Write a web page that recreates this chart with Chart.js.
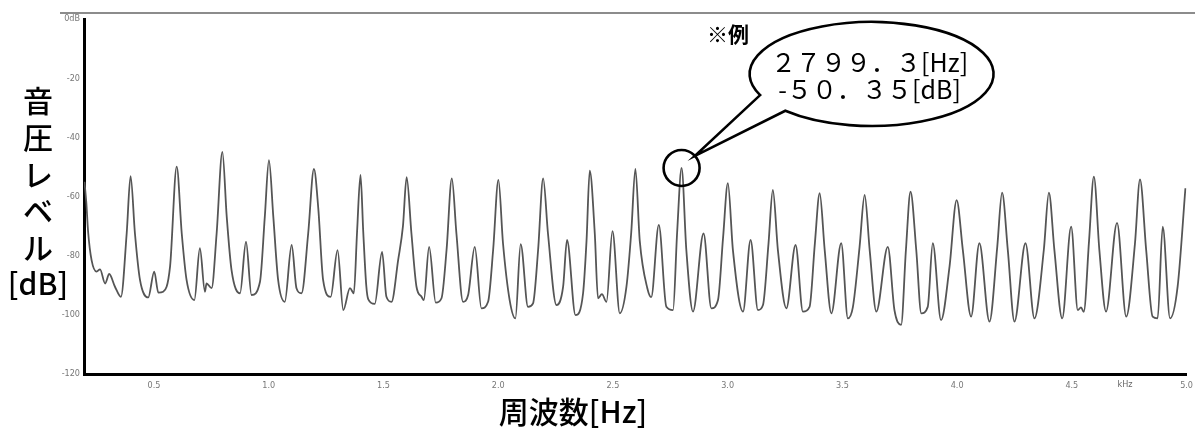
<!DOCTYPE html>
<html>
<head>
<meta charset="utf-8">
<script src="https://cdn.jsdelivr.net/npm/chart.js@4/dist/chart.umd.min.js"></script>
<style>
  html, body { margin: 0; padding: 0; background: #fff; }
  canvas { display: block; }
</style>
</head>
<body>
<canvas id="spectrum" width="1199" height="434"></canvas>
<script>
const freqKHz = [
  0.197, 0.205, 0.213, 0.228, 0.25, 0.265, 0.287, 0.305, 0.33, 0.356,
  0.381, 0.398, 0.417, 0.439, 0.475, 0.501, 0.519, 0.54, 0.57, 0.599,
  0.621, 0.642, 0.676, 0.70, 0.722, 0.729, 0.751, 0.773, 0.798, 0.817,
  0.838, 0.875, 0.901, 0.925, 0.962, 0.983, 1.001, 1.02, 1.041, 1.07,
  1.1, 1.121, 1.143, 1.172, 1.197, 1.216, 1.237, 1.27, 1.3, 1.325,
  1.354, 1.371, 1.385, 1.40, 1.412, 1.425, 1.434, 1.462, 1.494, 1.513,
  1.535, 1.564, 1.585, 1.601, 1.622, 1.644, 1.666, 1.676, 1.699, 1.728,
  1.753, 1.775, 1.798, 1.818, 1.847, 1.869, 1.898, 1.927, 1.956, 1.978,
  2.001, 2.021, 2.05, 2.075, 2.098, 2.13, 2.152, 2.174, 2.196, 2.217,
  2.254, 2.283, 2.30, 2.337, 2.37, 2.385, 2.399, 2.421, 2.435, 2.452,
  2.472, 2.498, 2.53, 2.559, 2.58, 2.598, 2.617, 2.65, 2.667, 2.70,
  2.733, 2.762, 2.78, 2.7993, 2.82, 2.849, 2.895, 2.929, 2.958, 2.98,
  3.001, 3.023, 3.067, 3.1, 3.132, 3.154, 3.178, 3.197, 3.219, 3.256,
  3.296, 3.328, 3.357, 3.38, 3.401, 3.423, 3.452, 3.495, 3.524, 3.546,
  3.575, 3.597, 3.619, 3.648, 3.698, 3.727, 3.756, 3.777, 3.797, 3.822,
  3.844, 3.872, 3.894, 3.93, 3.967, 3.998, 4.025, 4.061, 4.097, 4.141,
  4.175, 4.196, 4.221, 4.25, 4.298, 4.337, 4.378, 4.4, 4.424, 4.458,
  4.497, 4.526, 4.54, 4.552, 4.575, 4.596, 4.62, 4.649, 4.697, 4.737,
  4.775, 4.797, 4.824, 4.852, 4.874, 4.896, 4.928, 4.961, 4.995
];
const levelDb = [
  -55, -62, -72, -81.5, -85.4, -84.6, -89.4, -86.2, -90.5, -93.9,
  -72.5, -53.1, -72.5, -88.2, -94.1, -85.4, -92.5, -92.2, -83.7, -49.9,
  -72.5, -88.2, -95, -77.5, -92.2, -89.4, -91, -72.5, -44.9, -66.8,
  -84.9, -92.7, -75.3, -93.3, -88.8, -66.8, -47.7, -66.8, -88.2, -95.6,
  -76.4, -91, -92.7, -72.5, -50.7, -64, -88.2, -93.9, -78.1, -98.4,
  -91, -92.7, -72, -52.7, -72, -90, -94.8, -96.3, -78.7, -93.9,
  -95.6, -81.5, -70, -53.5, -72.5, -90.5, -93.9, -95, -77, -95.9,
  -94.4, -78.1, -53.9, -72.5, -95.6, -93.3, -77, -97.8, -95.6, -78.1,
  -54.4, -75.8, -95, -101.2, -76.1, -97.3, -96.1, -78.1, -53.9, -72.5,
  -96.7, -90.5, -74.7, -100.1, -92.7, -75, -51.3, -72.5, -94.4, -93,
  -95.6, -71.7, -99.5, -90.5, -72, -50.7, -75, -91, -94, -69.6,
  -97.3, -98.4, -72, -50.35, -78.1, -98.9, -72.5, -97.8, -95, -74,
  -55.5, -78.1, -98.9, -74.7, -98.4, -96.7, -76, -57.8, -78.1, -97.8,
  -76.4, -98.9, -97.3, -76, -58.9, -78.1, -99.5, -75.8, -101.2, -97.3,
  -77, -59.5, -78.1, -98.9, -77, -98.4, -103.4, -78, -58.4, -78.1,
  -99.5, -97.3, -75.8, -101.8, -83.7, -61.2, -78.1, -100.6, -75.8, -102.3,
  -77, -58.7, -78.1, -102.3, -75.8, -101.2, -78, -58.7, -78.1, -101.2,
  -70.2, -98.4, -97.5, -99, -75, -53.3, -78.1, -98.9, -68.9, -100.6,
  -76, -54.2, -78.1, -100.6, -101.2, -70.2, -101.2, -90.5, -57.2
];

const xTicks = [0.5, 1.0, 1.5, 2.0, 2.5, 3.0, 3.5, 4.0, 4.5, 5.0];
const yTicks = [-120, -100, -80, -60, -40, -20, 0];

// the marked peak shown in the callout
const markFreqHz = 2799.3;
const markLevelDb = -50.35;

const yTitle = ['音', '圧', 'レ', 'ベ', 'ル', '[dB]'];
const xTitle = '周波数[Hz]';
const noteLabel = '※例';
const markLines = ['２７９９．３[Hz]', '-５０．３５[dB]'];

const points = freqKHz.map((f, i) => ({ x: f, y: levelDb[i] }));

const jp = '"Noto Sans CJK JP", "Noto Sans", sans-serif';
const tickFont = { family: '"DejaVu Sans Condensed", "DejaVu Sans", sans-serif', size: 9 };

const overlay = {
  id: 'overlay',
  afterDraw(chart) {
    const { ctx, chartArea, scales } = chart;
    ctx.save();

    // thin grey rule across the top
    ctx.strokeStyle = '#8c8c8c';
    ctx.lineWidth = 2;
    ctx.beginPath();
    ctx.moveTo(60, chartArea.top - 6);
    ctx.lineTo(1195, chartArea.top - 6);
    ctx.stroke();

    // unit label near the right end of the x axis
    ctx.fillStyle = '#666';
    ctx.font = '9px "DejaVu Sans Condensed", sans-serif';
    ctx.textAlign = 'center';
    ctx.textBaseline = 'middle';
    ctx.fillText('kHz', 1125, chartArea.bottom + 11);

    // axis titles
    ctx.fillStyle = '#000';
    ctx.font = '500 30px ' + jp;
    yTitle.forEach((s, i) => ctx.fillText(s, 38, 101 + i * 36.6));
    ctx.fillText(xTitle, 573, 412);

    // callout
    const px = scales.x.getPixelForValue(markFreqHz / 1000);
    const py = scales.y.getPixelForValue(markLevelDb);
    const cx = px + 190, cy = py - 94, rx = 122, ry = 52;
    const a1 = 156 * Math.PI / 180, a2 = 135 * Math.PI / 180;
    const ta = -42 * Math.PI / 180;
    const r = 18;

    ctx.lineWidth = 2.6;
    ctx.strokeStyle = '#000';
    ctx.beginPath();
    ctx.ellipse(cx, cy, rx, ry, 0, a1, a2, false);
    ctx.lineTo(px + r * Math.cos(ta), py + r * Math.sin(ta));
    ctx.closePath();
    ctx.fillStyle = '#fff';
    ctx.fill();
    ctx.stroke();

    ctx.beginPath();
    ctx.arc(px, py, r, 0, Math.PI * 2);
    ctx.stroke();

    ctx.fillStyle = '#000';
    ctx.font = '25px ' + jp;
    ctx.fillText(markLines[0], cx - 2, cy - 11);
    ctx.fillText(markLines[1], cx - 2, cy + 16);

    ctx.font = 'bold 21px ' + jp;
    ctx.fillText(noteLabel, 728, 34);

    ctx.restore();
  }
};

new Chart(document.getElementById('spectrum'), {
  type: 'line',
  data: {
    datasets: [{
      data: points,
      borderColor: '#555',
      borderWidth: 1.8,
      pointRadius: 0,
      fill: false,
      cubicInterpolationMode: 'monotone'
    }]
  },
  options: {
    responsive: false,
    animation: false,
    layout: { padding: { top: 19, right: 12, left: 0, bottom: 0 } },
    plugins: { legend: { display: false }, tooltip: { enabled: false } },
    scales: {
      x: {
        type: 'linear',
        min: 0.195,
        max: 5.0,
        grid: { display: false, drawTicks: false },
        border: { color: '#000', width: 3 },
        afterBuildTicks: s => { s.ticks = xTicks.map(v => ({ value: v })); },
        afterFit: s => { s.height = 60; },
        ticks: {
          color: '#777',
          font: tickFont,
          padding: 6,
          maxRotation: 0,
          autoSkip: false,
          callback: v => v.toFixed(1)
        }
      },
      y: {
        min: -120,
        max: 0,
        grid: { display: false, drawTicks: false },
        border: { color: '#000', width: 3 },
        afterBuildTicks: s => { s.ticks = yTicks.map(v => ({ value: v })); },
        afterFit: s => { s.width = 84; },
        ticks: {
          color: '#777',
          font: tickFont,
          padding: 4,
          callback: v => (v === 0 ? '0dB' : v)
        }
      }
    }
  },
  plugins: [overlay]
});
</script>
</body>
</html>
